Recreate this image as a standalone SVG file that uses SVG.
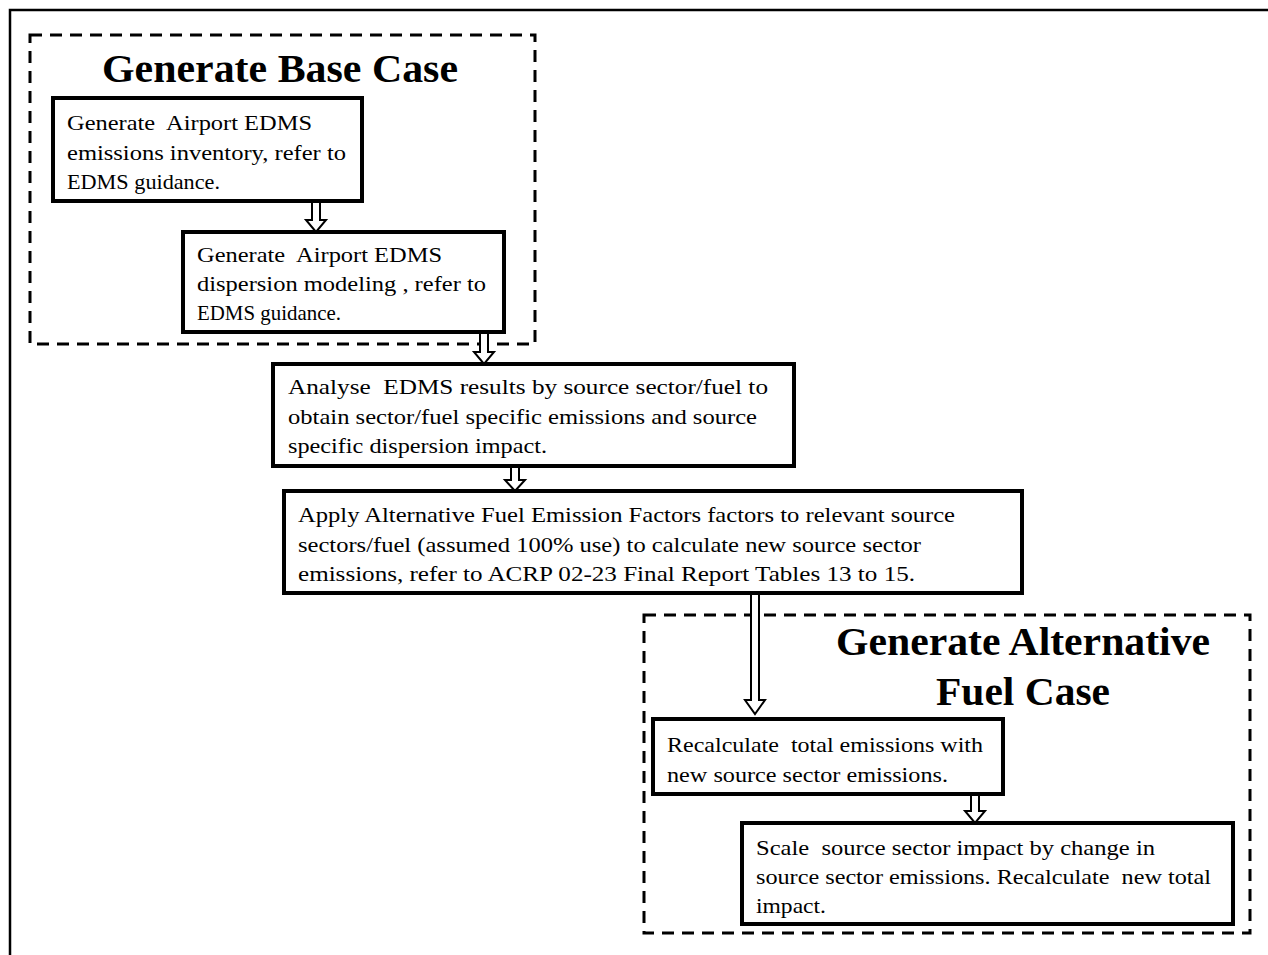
<svg xmlns="http://www.w3.org/2000/svg" width="1268" height="955" viewBox="0 0 1268 955">
<style>
.frame{fill:none;stroke:#000;stroke-width:2.5}
.grp{fill:none;stroke:#000;stroke-width:3;stroke-dasharray:12 8}
.box{fill:#fff;stroke:#000;stroke-width:4}
.arr{fill:#fff;stroke:#000;stroke-width:2;stroke-linejoin:miter}
text{white-space:pre}
.t{font-size:22px;fill:#000}
.h{font-size:40px;font-weight:bold;fill:#000}
</style>
<rect width="1268" height="955" fill="#fff"/>
<path class="frame" d="M10,955 V10 H1268"/>
<g font-family="Liberation Serif, serif" xml:space="preserve">
<g id="group-base">
<rect class="grp" x="30" y="35" width="505" height="309"/>
<text class="h" x="102" y="82" textLength="356" lengthAdjust="spacingAndGlyphs">Generate Base Case</text>
</g>
<g id="group-alt">
<rect class="grp" x="644" y="615" width="606" height="318"/>
<text class="h" x="836" y="655" textLength="374" lengthAdjust="spacingAndGlyphs">Generate Alternative</text>
<text class="h" x="936" y="705" textLength="174" lengthAdjust="spacingAndGlyphs">Fuel Case</text>
</g>
<g id="connectors">
<path class="arr" d="M312,201 V220 H306 L316,232 L326,220 H320 V201 Z"/>
<path class="arr" d="M480,332 V352 H474 L484,364 L494,352 H488 V332 Z"/>
<path class="arr" d="M511,466 V480 H505 L515,491 L525,480 H519 V466 Z"/>
<path class="arr" d="M751,593 V700 H745 L755,714 L765,700 H759 V593 Z"/>
<path class="arr" d="M971,794 V811 H965 L975,823 L985,811 H979 V794 Z"/>
</g>
<g id="node1">
<rect class="box" x="53" y="98" width="309" height="103"/>
<text class="t" x="67" y="130" textLength="245" lengthAdjust="spacingAndGlyphs">Generate  Airport EDMS</text>
<text class="t" x="67" y="160" textLength="279" lengthAdjust="spacingAndGlyphs">emissions inventory, refer to</text>
<text class="t" x="67" y="189" textLength="153" lengthAdjust="spacingAndGlyphs">EDMS guidance.</text>
</g>
<g id="node2">
<rect class="box" x="183" y="232" width="321" height="100"/>
<text class="t" x="197" y="262" textLength="245" lengthAdjust="spacingAndGlyphs">Generate  Airport EDMS</text>
<text class="t" x="197" y="291" textLength="289" lengthAdjust="spacingAndGlyphs">dispersion modeling , refer to</text>
<text class="t" x="197" y="320" textLength="144" lengthAdjust="spacingAndGlyphs">EDMS guidance.</text>
</g>
<g id="node3">
<rect class="box" x="273" y="364" width="521" height="102"/>
<text class="t" x="288" y="394" textLength="480" lengthAdjust="spacingAndGlyphs">Analyse  EDMS results by source sector/fuel to</text>
<text class="t" x="288" y="424" textLength="469" lengthAdjust="spacingAndGlyphs">obtain sector/fuel specific emissions and source</text>
<text class="t" x="288" y="453" textLength="259" lengthAdjust="spacingAndGlyphs">specific dispersion impact.</text>
</g>
<g id="node4">
<rect class="box" x="284" y="491" width="738" height="102"/>
<text class="t" x="298" y="522" textLength="657" lengthAdjust="spacingAndGlyphs">Apply Alternative Fuel Emission Factors factors to relevant source</text>
<text class="t" x="298" y="552" textLength="623" lengthAdjust="spacingAndGlyphs">sectors/fuel (assumed 100% use) to calculate new source sector</text>
<text class="t" x="298" y="581" textLength="617" lengthAdjust="spacingAndGlyphs">emissions, refer to ACRP 02-23 Final Report Tables 13 to 15.</text>
</g>
<g id="node5">
<rect class="box" x="653" y="719" width="350" height="75"/>
<text class="t" x="667" y="752" textLength="316" lengthAdjust="spacingAndGlyphs">Recalculate  total emissions with</text>
<text class="t" x="667" y="782" textLength="281" lengthAdjust="spacingAndGlyphs">new source sector emissions.</text>
</g>
<g id="node6">
<rect class="box" x="742" y="823" width="491" height="101"/>
<text class="t" x="756" y="855" textLength="399" lengthAdjust="spacingAndGlyphs">Scale  source sector impact by change in</text>
<text class="t" x="756" y="884" textLength="455" lengthAdjust="spacingAndGlyphs">source sector emissions. Recalculate  new total</text>
<text class="t" x="756" y="913" textLength="70" lengthAdjust="spacingAndGlyphs">impact.</text>
</g>
</g>
</svg>
